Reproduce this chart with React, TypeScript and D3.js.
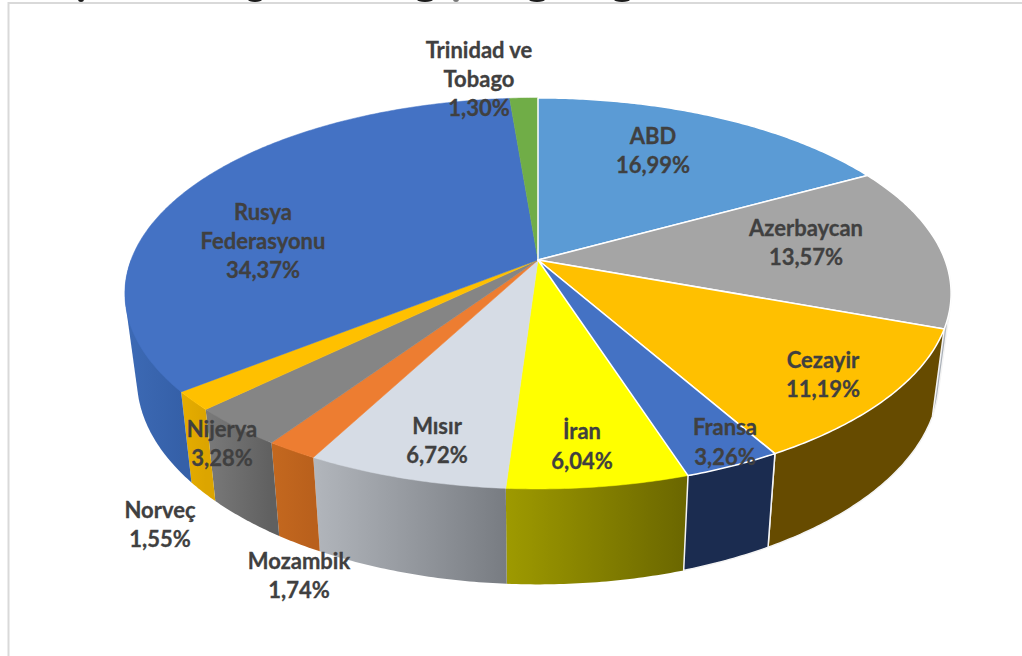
import React from "react";
import * as d3 from "d3";

const WIDTH = 1022;
const HEIGHT = 656;

// Data, clockwise from twelve o'clock
const categories = ["ABD", "Azerbaycan", "Cezayir", "Fransa", "İran", "Mısır", "Mozambik", "Nijerya", "Norveç", "Rusya Federasyonu", "Trinidad ve Tobago"];
const shares = [16.99, 13.57, 11.19, 3.26, 6.04, 6.72, 1.74, 3.28, 1.55, 34.37, 1.3];

// Styling, in the same order
const topColors = ["#5b9bd5", "#a5a5a5", "#ffc000", "#4472c4", "#ffff00", "#d6dce5", "#ed7d31", "#858585", "#ffc000", "#4472c4", "#70ad47"];
const sideFrom = ["#4a7fb0", "#aab0b8", "#664b00", "#1b2c50", "#9e9a00", "#b2b6bc", "#c4681f", "#7a7a7a", "#e6ad00", "#3c69b4", "#4d7a32"];
const sideTo = ["#4a7fb0", "#b4b9c0", "#664b00", "#1b2c50", "#6a6600", "#787c82", "#b9601c", "#606060", "#dca500", "#3560a8", "#4d7a32"];
const outlined = [true, true, true, true, false, false, false, false, false, false, false];

// Label layout: wrapped lines and placement (centre x, first baseline, leading)
const labelLines = [["ABD"], ["Azerbaycan"], ["Cezayir"], ["Fransa"], ["İran"], ["Mısır"], ["Mozambik"], ["Nijerya"], ["Norveç"], ["Rusya", "Federasyonu"], ["Trinidad ve", "Tobago"]];
const labelX = [653, 806, 823, 725, 582, 437, 299, 222, 160, 263, 479];
const labelY = [144, 236, 368, 435, 439, 434, 569, 437, 518, 220, 58];
const labelLead = [29, 29, 29, 30, 30, 29, 29, 29, 29, 29, 29];

// Bits of the cropped heading that remain at the very top edge
const clippedTitleX = [81, 255, 425, 456, 537, 622];
const clippedTitleRx = [3, 7, 8, 3, 8, 8];

const CX = 538;
const CY = 260;
const RX = 407;
const RY = 189.8;
const PERSP = 0.171;

const xScale = d3.scaleLinear().domain([-1, 1]).range([CX - RX, CX + RX]);
const yScale = d3.scaleLinear().domain([-1, 1]).range([CY + RY, CY - RY]);

function rim(theta: number): [number, number] {
  const w = 1 + PERSP * Math.cos(theta);
  return [xScale(Math.sin(theta) / w), yScale(Math.cos(theta) / w)];
}
function base(theta: number): [number, number] {
  const [x, y] = rim(theta);
  return [CX + (x - CX) * 0.971, CY + (y - CY) * 1.05 + 84];
}
function sample(a: number, b: number): number[] {
  const n = Math.max(2, Math.ceil(Math.abs(b - a) / 0.01));
  return d3.range(n + 1).map((i) => a + ((b - a) * i) / n);
}

const line = d3.line();
const arcs = d3.pie<number>().sort(null).value((d) => d).startAngle(0).endAngle(2 * Math.PI)(shares);
const fmt = (v: number) => d3.format(".2f")(v).replace(".", ",") + "%";

const SIDE_MIN = Math.PI / 2;
const SIDE_MAX = (3 * Math.PI) / 2;

export default function App() {
  const order = d3.range(categories.length).sort((a, b) => Number(outlined[a]) - Number(outlined[b]));
  return (
    <svg width={WIDTH} height={HEIGHT} viewBox={`0 0 ${WIDTH} ${HEIGHT}`} style={{ position: "absolute", left: 0, top: 0, background: "#fff" }}>
      <defs>
        {arcs.map((arc, i) => {
          const a = Math.max(arc.startAngle, SIDE_MIN);
          const b = Math.min(arc.endAngle, SIDE_MAX);
          if (a >= b) return null;
          const x0 = Math.min(rim(a)[0], rim(b)[0]);
          const x1 = Math.max(rim(a)[0], rim(b)[0]);
          return (
            <linearGradient key={i} id={`side${i}`} gradientUnits="userSpaceOnUse" x1={x0} x2={x1} y1={0} y2={0}>
              <stop offset="0" stopColor={sideFrom[i]} />
              <stop offset="1" stopColor={sideTo[i]} />
            </linearGradient>
          );
        })}
      </defs>

      {clippedTitleX.map((x, i) => (
        <ellipse key={x} cx={x} cy={-0.5} rx={clippedTitleRx[i]} ry={2.4} fill={i === 3 ? "#777" : "#1a1a1a"} />
      ))}
      <path d={line([[8.5, HEIGHT], [8.5, 3], [WIDTH, 3]]) || ""} fill="none" stroke="#d9d9d9" strokeWidth={2} />

      {/* Outer wall of the disc */}
      {order.map((i) => {
        const arc = arcs[i];
        const a = Math.max(arc.startAngle, SIDE_MIN);
        const b = Math.min(arc.endAngle, SIDE_MAX);
        if (a >= b) return null;
        const ts = sample(a, b);
        const pts = d3.polygonHull([...ts.map(rim), ...ts.map(base)]) || [];
        return (
          <path
            key={i}
            d={(line(pts) || "") + "Z"}
            fill={`url(#side${i})`}
            stroke={outlined[i] ? "#f4f4f4" : "none"}
            strokeWidth={1.5}
            strokeLinejoin="round"
          />
        );
      })}

      {/* Top face */}
      {order.map((i) => {
        const arc = arcs[i];
        const pts: [number, number][] = [[CX, CY], ...sample(arc.startAngle, arc.endAngle).map(rim)];
        return (
          <path
            key={i}
            d={(line(pts) || "") + "Z"}
            fill={topColors[i]}
            stroke={outlined[i] ? "#ffffff" : topColors[i]}
            strokeWidth={outlined[i] ? 1.5 : 0.5}
            strokeLinejoin="round"
          />
        );
      })}

      {/* Labels */}
      <g fontFamily="Lato, 'Open Sans', sans-serif" fontWeight={700} fontSize={22} fill="#404040" stroke="#404040" strokeWidth={0.3} textAnchor="middle">
        {categories.map((c, i) => {
          const lines = [...labelLines[i], fmt(shares[i])];
          return (
            <text key={c}>
              {lines.map((t, k) => (
                <tspan key={k} x={labelX[i]} y={labelY[i] + k * labelLead[i]}>
                  {t}
                </tspan>
              ))}
            </text>
          );
        })}
      </g>
    </svg>
  );
}
